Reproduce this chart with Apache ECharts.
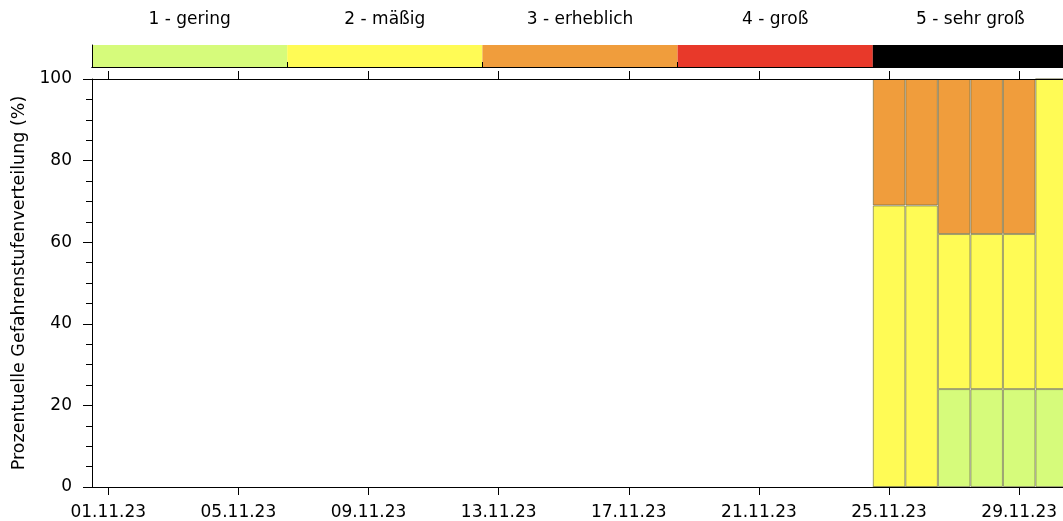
<!DOCTYPE html>
<html>
<head>
<meta charset="utf-8">
<script src="https://cdn.jsdelivr.net/npm/echarts@6/dist/echarts.min.js"></script>
<style>
  html, body { margin: 0; padding: 0; background: #fff; overflow: hidden; }
  #chart { width: 1072px; height: 521px; }
</style>
</head>
<body>
<div id="chart"></div>
<script>
// ---- data ----
const dates = [
  '01.11.23','02.11.23','03.11.23','04.11.23','05.11.23','06.11.23','07.11.23','08.11.23',
  '09.11.23','10.11.23','11.11.23','12.11.23','13.11.23','14.11.23','15.11.23','16.11.23',
  '17.11.23','18.11.23','19.11.23','20.11.23','21.11.23','22.11.23','23.11.23','24.11.23',
  '25.11.23','26.11.23','27.11.23','28.11.23','29.11.23','30.11.23'
];
const N = null;
const level1 = [N,N,N,N,N,N,N,N,N,N,N,N,N,N,N,N,N,N,N,N,N,N,N,N, 0, 0,24,24,24,24];
const level2 = [N,N,N,N,N,N,N,N,N,N,N,N,N,N,N,N,N,N,N,N,N,N,N,N,69,69,38,38,38,76];
const level3 = [N,N,N,N,N,N,N,N,N,N,N,N,N,N,N,N,N,N,N,N,N,N,N,N,31,31,38,38,38, 0];
const levelNames = ['1 - gering', '2 - mäßig', '3 - erheblich', '4 - groß', '5 - sehr groß'];
const levelColors = ['#d6fb7b', '#fffb55', '#f09d3c', '#e8392a', '#000000'];
const yTitle = 'Prozentuelle Gefahrenstufenverteilung (%)';

// ---- chart ----
const FONT = 'DejaVu Sans';
const chart = echarts.init(document.getElementById('chart'), null, { renderer: 'canvas' });
const lineBlack = { color: '#000', width: 1 };
const edge = { borderColor: 'rgba(100,100,60,0.6)', borderWidth: 1 };

const levelSeries = [level1, level2, level3].map((d, i) => ({
  name: levelNames[i],
  type: 'bar',
  xAxisIndex: 0,
  yAxisIndex: 0,
  stack: 'total',
  barWidth: '100%',
  data: d,
  itemStyle: Object.assign({ color: levelColors[i] }, edge),
  emphasis: { disabled: true },
  z: 2
}));

const option = {
  animation: false,
  textStyle: { fontFamily: FONT },
  grid: [
    { left: 92, top: 79, width: 976, height: 408, containLabel: false },
    { left: 92, top: 45, width: 976, height: 22, containLabel: false }
  ],
  xAxis: [
    {
      type: 'category', gridIndex: 0, position: 'bottom', data: dates, boundaryGap: true,
      axisLine: { show: true, lineStyle: lineBlack },
      axisTick: { show: true, interval: 3, alignWithLabel: true, length: 8, lineStyle: lineBlack },
      axisLabel: { interval: 3, fontSize: 17, color: '#000', margin: 17, fontFamily: FONT },
      splitLine: { show: false }, z: 10
    },
    {
      type: 'category', gridIndex: 0, position: 'top', data: dates, boundaryGap: true,
      axisLine: { show: true, lineStyle: lineBlack },
      axisTick: { show: true, interval: 3, alignWithLabel: true, length: 8, lineStyle: lineBlack },
      axisLabel: { show: false },
      splitLine: { show: false }, z: 10
    },
    {
      type: 'category', gridIndex: 1, position: 'top', data: levelNames, boundaryGap: true,
      axisLine: { show: true, lineStyle: lineBlack },
      axisTick: { show: true, interval: 0, alignWithLabel: false, length: 5, lineStyle: lineBlack },
      axisLabel: { interval: 0, fontSize: 17, color: '#000', margin: 17, fontFamily: FONT },
      splitLine: { show: false }, z: 10
    },
    {
      type: 'category', gridIndex: 1, position: 'bottom', data: levelNames, boundaryGap: true,
      axisLine: { show: true, lineStyle: lineBlack },
      axisTick: { show: false }, axisLabel: { show: false },
      splitLine: { show: false }, z: 10
    }
  ],
  yAxis: [
    {
      type: 'value', gridIndex: 0, min: 0, max: 100, interval: 20,
      axisLine: { show: true, lineStyle: lineBlack },
      axisTick: { show: true, length: 9, lineStyle: lineBlack },
      minorTick: { show: true, splitNumber: 4, length: 6, lineStyle: lineBlack },
      axisLabel: { fontSize: 17, color: '#000', margin: 20, fontFamily: FONT },
      splitLine: { show: false }, minorSplitLine: { show: false },
      name: yTitle, nameLocation: 'middle', nameGap: 63, nameRotate: 90,
      nameTextStyle: { fontSize: 17.5, color: '#000', fontFamily: FONT },
      z: 10
    },
    {
      type: 'value', gridIndex: 1, min: 0, max: 1,
      axisLine: { show: true, lineStyle: lineBlack },
      axisTick: { show: false }, axisLabel: { show: false }, splitLine: { show: false },
      z: 10
    }
  ],
  series: levelSeries.concat([
    {
      type: 'bar', xAxisIndex: 2, yAxisIndex: 1, barWidth: '100%',
      data: levelNames.map((n, i) => ({ value: 1, itemStyle: { color: levelColors[i] } })),
      emphasis: { disabled: true }, z: 2
    }
  ])
};
chart.setOption(option);
</script>
</body>
</html>
